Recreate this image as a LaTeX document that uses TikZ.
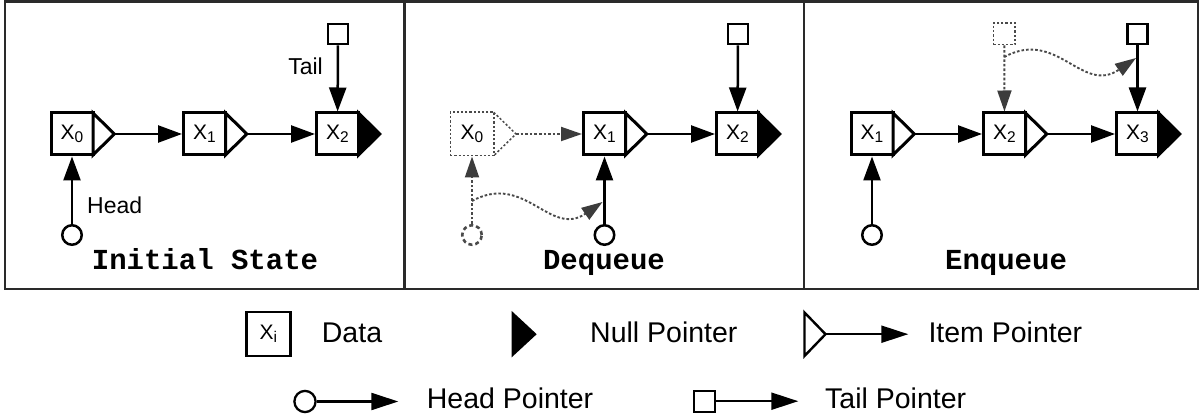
\documentclass[tikz,border=0pt]{standalone}
\usepackage{fontspec}
\setmainfont{Liberation Sans}
\newfontfamily\capfont{Liberation Mono}
\usetikzlibrary{arrows.meta,calc}

\definecolor{framecol}{HTML}{2A2A2A}
\definecolor{ghost}{HTML}{4A4A4A}
\definecolor{ghosttip}{HTML}{3C3C3C}

% item label such as X_0
\newcommand{\itemlabel}[1]{{\fontsize{21}{21}\selectfont X\raisebox{-3pt}{\fontsize{15.5}{15.5}\selectfont #1}}}

% pointer triangle attached to the right side of a data box
\newcommand{\pointertri}[4]{% box, fill, tip name, extra style
  \draw[line width=3pt, line join=miter, fill=#2, #4]
    ($(#1.center)+(21,-21)$) -- ($(#1.center)+(42.3,0)$) coordinate (#3)
    -- ($(#1.center)+(21,21)$) -- cycle;}

\tikzset{
  databox/.style={draw, line width=3pt, minimum width=42pt, minimum height=42pt,
    inner sep=0pt, fill=white},
  ghostbox/.style={draw=ghost, line width=1.5pt, dash pattern=on 2.2pt off 2pt,
    minimum width=43.5pt, minimum height=43.5pt, inner sep=0pt},
  ghosttri/.style={draw=ghost, line width=1.5pt, dash pattern=on 2.2pt off 2pt},
  link/.style={line width=2.5pt, -{Triangle[length=24pt,width=17pt]}},
  ghostlink/.style={draw=ghost, line width=1.9pt, dash pattern=on 2.6pt off 2pt,
    -{Triangle[length=21pt,width=14pt,color=ghosttip]}},
  headptr/.style={circle, draw, line width=2.5pt, minimum size=19.5pt, inner sep=0pt},
  ghosthead/.style={circle, draw=ghost, line width=2.6pt, dash pattern=on 4pt off 3pt,
    minimum size=19.5pt, inner sep=0pt},
  tailptr/.style={rectangle, draw, line width=2.5pt, minimum size=20.2pt, inner sep=0pt},
  ghosttail/.style={rectangle, draw=ghost, line width=1.5pt, dash pattern=on 2.2pt off 2pt,
    minimum size=21.5pt, inner sep=0pt},
  ptrlabel/.style={font=\fontsize{23}{23}\selectfont, inner sep=0pt},
  caption/.style={font=\capfont\bfseries\fontsize{29}{29}\selectfont, anchor=base, inner sep=0pt},
  legtext/.style={font=\fontsize{28.5}{28.5}\selectfont, anchor=base west, inner sep=0pt},
  leglink/.style={line width=2.2pt, -{Triangle[length=27pt,width=17pt]}},
}

\begin{document}
\begin{tikzpicture}[x=1pt,y=-1pt]
\useasboundingbox (0,0) rectangle (1199,419);

% panel frames
\draw[framecol, line width=2.4pt] (4.7,1.7) rectangle (1197.8,289.3);
\draw[framecol, line width=2.4pt] (404.3,1.7) -- (404.3,289.3);
\draw[framecol, line width=2.4pt] (804,1.7) -- (804,289.3);

% ---------- Initial State ----------
\node[databox] (a0) at (72,134) {\itemlabel{0}};
\node[databox] (a1) at (204.5,134) {\itemlabel{1}};
\node[databox] (a2) at (337.5,134) {\itemlabel{2}};
\pointertri{a0}{white}{a0t}{}
\pointertri{a1}{white}{a1t}{}
\pointertri{a2}{black}{a2t}{}
\draw[link] (a0t) -- (a1);
\draw[link] (a1t) -- (a2);
\node[tailptr] (atail) at (338,34) {};
\draw[link] (atail) -- (a2);
\node[headptr] (ahead) at (72,235) {};
\draw[link] (ahead) -- (a0);
\node[ptrlabel, anchor=base east] (atl) at (323,75) {Tail};
\node[ptrlabel, anchor=base west] (ahl) at (87,213.3) {Head};
\node[caption] (capa) at (205,270) {Initial State};

% ---------- Dequeue ----------
\node[ghostbox] (b0) at (472,134) {\itemlabel{0}};
\node[databox] (b1) at (604.5,134) {\itemlabel{1}};
\node[databox] (b2) at (737.5,134) {\itemlabel{2}};
\draw[ghosttri, line join=miter] ($(b0.center)+(21.7,-21.7)$) -- ($(b0.center)+(44,0)$) coordinate (b0t)
  -- ($(b0.center)+(21.7,21.7)$);
\pointertri{b1}{white}{b1t}{}
\pointertri{b2}{black}{b2t}{}
\draw[ghostlink] (b0t) -- (b1);
\draw[link] (b1t) -- (b2);
\node[tailptr] (btail) at (738,34) {};
\draw[link] (btail) -- (b2);
\node[ghosthead] (boldhead) at (472,235) {};
\draw[ghostlink] (boldhead) -- (b0);
\node[headptr] (bhead) at (604.5,235) {};
\draw[link] (bhead) -- (b1);
\coordinate (bs) at (472,201);
\coordinate (be) at (602.5,202);
\draw[ghostlink] (bs) .. controls (525,172) and (550,238) .. (be);
\node[caption] (capb) at (604,270) {Dequeue};

% ---------- Enqueue ----------
\node[databox] (c1) at (872,134) {\itemlabel{1}};
\node[databox] (c2) at (1004.5,134) {\itemlabel{2}};
\node[databox] (c3) at (1137.5,134) {\itemlabel{3}};
\pointertri{c1}{white}{c1t}{}
\pointertri{c2}{white}{c2t}{}
\pointertri{c3}{black}{c3t}{}
\draw[link] (c1t) -- (c2);
\draw[link] (c2t) -- (c3);
\node[headptr] (chead) at (872,235) {};
\draw[link] (chead) -- (c1);
\node[ghosttail] (coldtail) at (1004.3,34) {};
\draw[ghostlink] (coldtail) -- (c2);
\node[tailptr] (ctail) at (1137.5,34) {};
\draw[link] (ctail) -- (c3);
\coordinate (cs) at (1004.3,57);
\coordinate (ce) at (1136,58);
\draw[ghostlink] (cs) .. controls (1057,28) and (1082,95) .. (ce);
\node[caption] (capc) at (1006,270) {Enqueue};

% ---------- Legend ----------
\node[databox, line width=2.4pt, minimum width=44pt, minimum height=44pt] (ldata) at (268.3,334.2) {\itemlabel{i}};
\node[legtext] (ldatal) at (321.7,342.7) {Data};

\fill (511.7,311) -- (536.7,334.2) -- (511.7,357.3) -- cycle;
\node[legtext] (lnull) at (590,342.7) {Null Pointer};

\draw[line width=2.4pt, line join=miter, fill=white] (804.5,312.5) -- (825.5,334.2) coordinate (litemt) -- (804.5,356) -- cycle;
\coordinate (litemend) at (908.3,334.2);
\draw[leglink] (litemt) -- (litemend);
\node[legtext] (litem) at (928.3,342.7) {Item Pointer};

\node[circle, draw, line width=2.3pt, minimum size=21.2pt, inner sep=0pt] (lhead) at (305,401.5) {};
\coordinate (lheadend) at (398.3,401.5);
\draw[leglink] (lhead) -- (lheadend);
\node[legtext] (lheadl) at (426.7,408.8) {Head Pointer};

\node[rectangle, draw, line width=2.3pt, minimum size=21pt, inner sep=0pt] (ltail) at (704.3,401.2) {};
\coordinate (ltailend) at (798.3,401.2);
\draw[leglink] (ltail) -- (ltailend);
\node[legtext] (ltaill) at (825,408.8) {Tail Pointer};
\end{tikzpicture}
\end{document}
